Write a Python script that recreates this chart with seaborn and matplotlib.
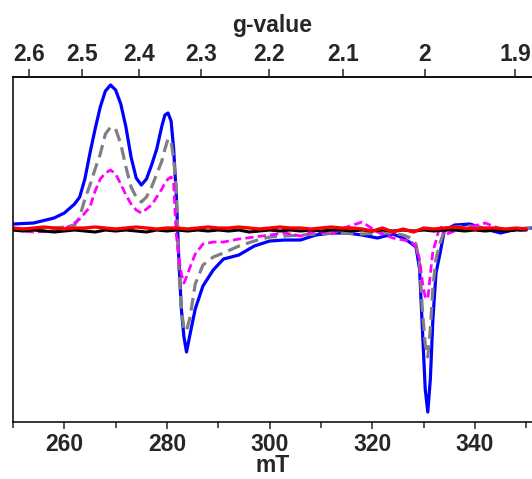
import numpy as np
import pandas as pd
import seaborn as sns
import matplotlib
matplotlib.use("Agg")
import matplotlib.pyplot as plt
from matplotlib.ticker import FixedLocator, FuncFormatter

# field grid (mT) for the three signal spectra
field = [250, 254, 258, 260, 262, 263, 264, 265, 266, 267, 268, 269, 270, 271, 272,
         273, 274, 275, 276, 277, 278, 279, 279.6, 280.2, 280.8, 281.3, 281.8, 282.3,
         282.8, 283.3, 283.8, 284.5, 285.5, 287, 289, 291, 294, 297, 300, 303, 306,
         309, 312, 315, 318, 321, 324, 326, 327.5, 328.5, 329.2, 329.8, 330.3, 330.8,
         331.3, 331.8, 332.4, 333.2, 334, 336, 339, 342, 345, 348, 351]

blue = [5, 6, 11, 16, 25, 32, 50, 76, 100, 122, 138, 144, 139, 125, 102,
        72, 51, 44, 50, 64, 80, 103, 114, 116, 108, 80, 35, -30,
        -80, -108, -123, -105, -80, -57, -41, -30, -26, -17, -12, -11, -11,
        -6, -4, -4, -6, -9, -5, -9, -14, -18, -40, -105, -160, -183,
        -150, -90, -44, -24, -2, 4, 5, 0, -4, 0, 1]

grey = [0, 0, 1, 2, 4, 12, 30, 44, 60, 75, 95, 102, 100, 85, 62,
        42, 32, 27, 32, 42, 55, 68, 80, 90, 88, 70, 40, -40,
        -80, -100, -102, -88, -55, -36, -28, -24, -17, -12, -8, -7, -6,
        -5, -4, -4, -5, -4, -4, -6, -9, -15, -35, -85, -115, -128,
        -100, -58, -30, -14, -2, 2, 3, 1, -1, 0, 1]

magenta = [-1, -3, -2, 0, 6, 10, 16, 22, 38, 50, 56, 59, 55, 45, 34,
           25, 19, 16, 20, 24, 32, 40, 46, 50, 52, 45, -5, -28,
           -45, -54, -48, -38, -25, -15, -13, -13, -10, -8, -6, -4, -7,
           -2, -5, 2, 7, -3, -9, -11, -12, -18, -30, -55, -68, -70,
           -45, -22, -12, 4, -6, -2, 2, 6, 0, -2, 0]

# flat control spectra, every 2 mT
field_flat = list(range(250, 352, 2))
red = [1, 0, 1, 2, 1, 0, 1, 1, 2, 1, 0, 1, 2, 1, 0, 1, 1, 0, 1, 2,
       1, 1, 2, 1, 0, 1, 2, 1, 1, 0, 1, 2, 1, 1, 0, -2, 1, -3, 0, -3,
       1, 0, 1, 2, 1, 0, 1, 1, 0, 1, 0]
black = [-1, -2, -1, -2, -3, -2, -1, -2, -3, -1, -2, -1, -2, -3, -1, -2, -1, -2, -1, -2,
         -1, -2, -1, -3, -2, -1, -2, -1, -2, -1, -2, -1, -1, -2, -1, -2, -1, -2, -1, -2,
         -1, -2, -1, -1, -2, -1, -2, -1, -2, -1, -1]

g_ticks = [2.6, 2.5, 2.4, 2.3, 2.2, 2.1, 2.0, 1.9]
K = 668.2      # g * (B + offset)
OFFSET = 3.9   # mT

sns.set_style("white")
plt.rcParams['font.family'] = ['Liberation Sans', 'DejaVu Sans']
plt.rcParams['font.weight'] = 'bold'

fig = plt.figure(figsize=(5.32, 4.79), dpi=100)
ax = fig.add_axes([0.0244, 0.1196, 0.9756, 0.7196])

sns.lineplot(x=field, y=blue, color='#0000ff', lw=2.3, ax=ax)
sns.lineplot(x=field, y=grey, color='#808080', lw=2.3, ax=ax).lines[-1].set_dashes([4, 2])
sns.lineplot(x=field, y=magenta, color='#ff00ff', lw=2.0, ax=ax).lines[-1].set_dashes([3, 1.5])
sns.lineplot(x=field_flat, y=black, color='black', lw=2.2, ax=ax)
sns.lineplot(x=field_flat, y=red, color='#ff0000', lw=2.4, ax=ax)

ax.set_xlim(250, 351.1)
ax.set_ylim(-192.7, 152)
ax.set_yticks([])
ax.spines['right'].set_visible(False)
for s in ['left', 'top', 'bottom']:
    ax.spines[s].set_color('black')
    ax.spines[s].set_linewidth(1.1)

ax.xaxis.set_major_locator(FixedLocator([260, 280, 300, 320, 340]))
ax.xaxis.set_minor_locator(FixedLocator([250, 270, 290, 310, 330, 350]))
ax.tick_params(axis='x', which='major', direction='out', length=5, width=1.1,
               labelsize=16.5, pad=3, bottom=True)
ax.tick_params(axis='x', which='minor', direction='out', length=4, width=1.1, bottom=True)
ax.set_xlabel('mT', fontsize=16.5, fontweight='bold', labelpad=-1)


def to_g(b):
    b = np.asarray(b, dtype=float) + OFFSET
    return K / np.where(b == 0, 1e-9, b)


def to_b(g):
    g = np.asarray(g, dtype=float)
    return K / np.where(g == 0, 1e-9, g) - OFFSET


sec = ax.secondary_xaxis('top', functions=(to_g, to_b))
sec.xaxis.set_major_locator(FixedLocator(g_ticks))
sec.xaxis.set_major_formatter(FuncFormatter(lambda v, p: '{:g}'.format(round(v, 2))))
sec.tick_params(axis='x', direction='out', length=6, width=1.1, labelsize=16.5, pad=2)
sec.spines['top'].set_linewidth(1.1)
sec.set_xlabel('g-value', fontsize=16.5, fontweight='bold', labelpad=8)

fig.savefig('out.png', dpi=100)
